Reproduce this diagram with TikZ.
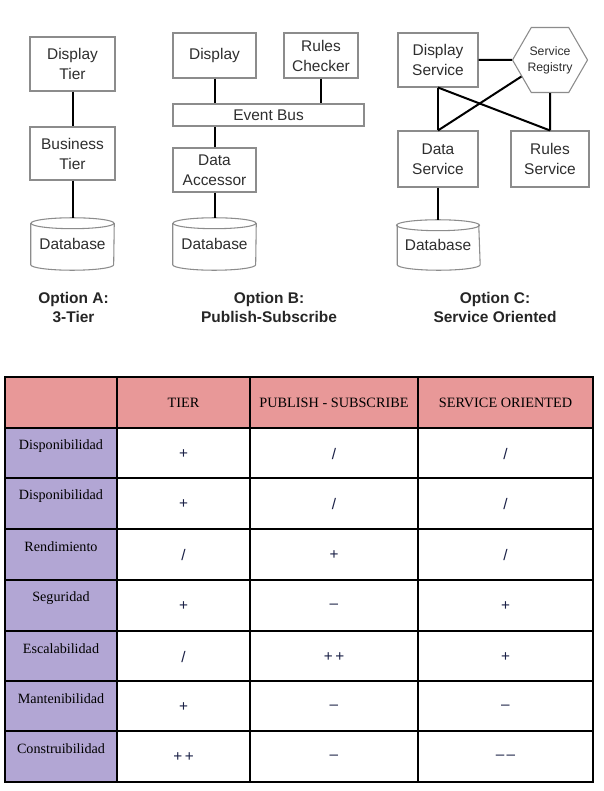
\documentclass[tikz,border=0pt]{standalone}
\usepackage{fontspec}
\setmainfont{Liberation Serif}
\newfontfamily\arialf{Liberation Sans}
\usetikzlibrary{shapes.geometric,calc}
\definecolor{boxgray}{HTML}{8C8C8C}
\definecolor{txtgray}{HTML}{2E2E2E}
\definecolor{hdrpink}{HTML}{E89898}
\definecolor{rowlav}{HTML}{B2A6D4}
\definecolor{symcol}{HTML}{1A2046}
\newcommand{\dbshape}[1]{%
  \draw[boxline] ($(#1.north west)+(0,5.5)$) -- ($(#1.south west)+(0,-5.5)$)
    arc[start angle=180,end angle=360,x radius=31.1pt,y radius=4.1pt]
    -- ($(#1.north east)+(0,5.5)$);
  \draw[boxline] ($(#1.north)+(0,5.5)$) ellipse[x radius=31.1pt,y radius=4.1pt];
}
\begin{document}
\begin{tikzpicture}[x=0.75pt,y=-0.75pt,
  diafont/.style={font=\arialf\fontsize{11.6}{15}\selectfont, text=txtgray},
  box/.style={draw=boxgray, line width=0.8pt, align=center, inner sep=0pt, diafont},
  boxline/.style={draw=boxgray, line width=0.8pt},
  conn/.style={line width=1.5pt, black},
  dbnode/.style={inner sep=0pt, diafont, minimum height=39pt},
  optlabel/.style={align=center, font=\arialf\bfseries\fontsize{11.6}{14.25}\selectfont, text=black!85},
  hdrtxt/.style={font=\fontsize{10.7}{13}\selectfont, text=black},
  rowtxt/.style={font=\fontsize{10.6}{13}\selectfont, text=black},
  symtxt/.style={font=\arialf\fontsize{11.5}{13}\selectfont, text=symcol},
  gridline/.style={line width=1.6pt, black, line cap=rect}
]
\useasboundingbox[fill=white] (0,0) rectangle (603,791);

% ---------- Option A ----------
\node[box, minimum width=63.75pt, minimum height=40.5pt] (dtA) at (72.5,64) {Display\\Tier};
\node[box, minimum width=63.75pt, minimum height=39.75pt] (btA) at (72.5,153.5) {Business\\Tier};
\node[dbnode, minimum width=62.25pt] (dbA) at (72.5,244) {Database};
\dbshape{dbA}
\draw[conn] (dtA.south) -- (btA.north);
\draw[conn] (btA.south) -- (dbA.north);
\node[optlabel] (labA) at (73.5,307.5) {Option A:\\3-Tier};

% ---------- Option B ----------
\node[box, minimum width=62.25pt, minimum height=33.75pt] (dispB) at (214.5,55.5) {Display};
\node[box, minimum width=55.5pt, minimum height=33.75pt] (rulesB) at (321,55.5) {Rules\\Checker};
\node[box, minimum width=143.25pt, minimum height=16.5pt] (bus) at (268.5,115) {Event Bus};
\node[box, minimum width=62.25pt, minimum height=33pt] (daB) at (214.5,170) {Data\\Accessor};
\node[dbnode, minimum width=62.25pt] (dbB) at (214.5,244) {Database};
\dbshape{dbB}
\draw[conn] (dispB.south) -- (dispB.south |- bus.north);
\draw[conn] (rulesB.south) -- (rulesB.south |- bus.north);
\draw[conn] (daB.north) -- (daB.north |- bus.south);
\draw[conn] (daB.south) -- (dbB.north);
\node[optlabel] (labB) at (269,307.5) {Option B:\\Publish-Subscribe};

% ---------- Option C ----------
\node[box, minimum width=60pt, minimum height=40.5pt] (dsvc) at (438,60) {Display\\Service};
\node[regular polygon, regular polygon sides=6, minimum size=56.25pt, draw=boxgray, line width=0.8pt,
      inner sep=0pt, align=center, font=\arialf\fontsize{9.2}{12}\selectfont, text=txtgray] (reg) at (550,60) {Service\\Registry};
\node[box, minimum width=60pt, minimum height=42pt] (datasvc) at (438,159) {Data\\Service};
\node[box, minimum width=58.5pt, minimum height=42pt] (rsvc) at (550,159) {Rules\\Service};
\node[dbnode, minimum width=60.75pt, minimum height=37.5pt] (dbC) at (438,245) {Database};
\dbshape{dbC}
\draw[conn] (dsvc.east) -- (reg.west);
\draw[conn] (dsvc.south) -- (datasvc.north);
\draw[conn] (dsvc.south) -- (rsvc.north);
\draw[conn] (datasvc.north) -- (reg.210);
\draw[conn] (reg.south) -- (rsvc.north);
\draw[conn] (datasvc.south) -- (dbC.north);
\node[optlabel] (labC) at (495,307.5) {Option C:\\Service Oriented};

% ---------- Table ----------
\fill[hdrpink] (5,377) rectangle (593,428);
\fill[rowlav] (5,428) rectangle (117,782);
\foreach \yy in {377,428,478,529,580,631,681,731,782}
  \draw[gridline] (5,\yy) -- (593,\yy);
\foreach \xx in {5,117,250,418,593}
  \draw[gridline] (\xx,377) -- (\xx,782);

\node[hdrtxt] (h1) at (183.5,403) {TIER};
\node[hdrtxt] (h2) at (334,403) {PUBLISH - SUBSCRIBE};
\node[hdrtxt] (h3) at (505.5,403) {SERVICE ORIENTED};

\foreach \lab/\top/\a/\b/\c [count=\i] in {
  Disponibilidad/428/+/\textup{/}/\textup{/},
  Disponibilidad/478/+/\textup{/}/\textup{/},
  Rendimiento/529/\textup{/}/+/\textup{/},
  Seguridad/580/+/–/+,
  Escalabilidad/631/\textup{/}/+\,+/+,
  Mantenibilidad/681/+/–/–,
  Construibilidad/731/+\,+/–/–\kern1.5pt–} {
  \node[rowtxt] (r\i) at (61,\top+18) {\lab};
  \node[symtxt] (s\i a) at (183.5,\top+26.5) {\a};
  \node[symtxt] (s\i b) at (334,\top+26.5) {\b};
  \node[symtxt] (s\i c) at (505.5,\top+26.5) {\c};
}
\end{tikzpicture}
\end{document}
